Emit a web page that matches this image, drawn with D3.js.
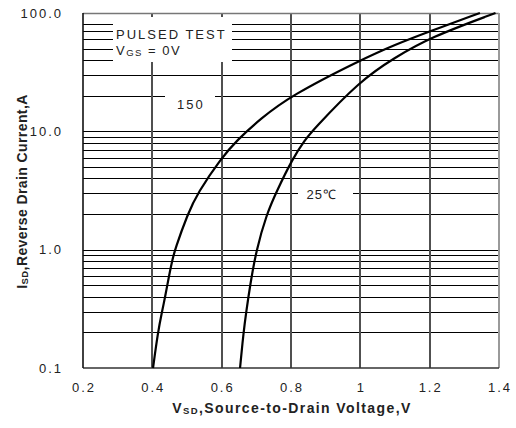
<!DOCTYPE html>
<html><head><meta charset="utf-8">
<script src="https://cdn.jsdelivr.net/npm/d3@7"></script>
<style>
body{margin:0;background:#fff}
svg{display:block;background:#fff}
text{font-family:"Liberation Sans",Arial,sans-serif;fill:#222}
</style>
</head><body>
<svg id="c" width="516" height="428"></svg>
<script>
// ---- data ----
const xTicks = [0.2, 0.4, 0.6, 0.8, 1.0, 1.2, 1.4];
const xTickLabels = ["0.2", "0.4", "0.6", "0.8", "1", "1.2", "1.4"];
const yTicks = [0.1, 1, 10, 100];
const yTickLabels = ["0.1", "1.0", "10.0", "100.0"];
const yGrid = [0.2, 0.3, 0.4, 0.5, 0.6, 0.7, 0.8, 0.9, 1, 2, 3, 4, 5, 6, 7, 8, 9, 10, 20, 30, 40, 50, 60, 70, 80, 100];
const v150 = [0.402, 0.416, 0.428, 0.437, 0.448, 0.457, 0.465, 0.502, 0.530, 0.600, 0.644, 0.711, 0.799, 1.000, 1.100, 1.200, 1.345];
const i150 = [0.1, 0.2, 0.3, 0.4, 0.6, 0.8, 1, 2, 3, 6, 8.4, 12.7, 20, 40, 54, 70, 100];
const v25 = [0.653, 0.663, 0.671, 0.682, 0.700, 0.730, 0.756, 0.806, 0.840, 0.860, 1.000, 1.100, 1.200, 1.39];
const i25 = [0.1, 0.2, 0.3, 0.5, 1, 2, 3, 6, 8.4, 10, 27, 42, 62, 100];

// ---- layout ----
const svg = d3.select("#c");
const L = 83, R = 499, T = 13, B = 368;
const x = d3.scaleLinear().domain([0.2, 1.4]).range([L, R]);
const y = d3.scaleLog().domain([0.1, 100]).range([B, T]);
const cr = v => Math.round(v) + 0.5;

const g = svg.append("g");
// horizontal grid
g.selectAll("line.h").data(yGrid.filter(d => d > 0.1 && d < 100)).join("line")
  .attr("x1", L).attr("x2", R)
  .attr("y1", d => cr(y(d))).attr("y2", d => cr(y(d)))
  .attr("stroke", "#000").attr("stroke-width", 1).attr("shape-rendering", "crispEdges");
// vertical grid
g.selectAll("line.v").data(xTicks.filter(d => d > 0.2 && d < 1.4)).join("line")
  .attr("x1", d => Math.round(x(d))).attr("x2", d => Math.round(x(d)))
  .attr("y1", T).attr("y2", B)
  .attr("stroke", "#505050").attr("stroke-width", 2).attr("shape-rendering", "crispEdges");
// borders
g.append("line").attr("x1", L).attr("x2", R).attr("y1", cr(y(100))).attr("y2", cr(y(100)))
  .attr("stroke", "#777").attr("stroke-width", 1.5);
g.append("line").attr("x1", R).attr("x2", R).attr("y1", T).attr("y2", B)
  .attr("stroke", "#9a9a9a").attr("stroke-width", 2);
g.append("line").attr("x1", L).attr("x2", R).attr("y1", B).attr("y2", B)
  .attr("stroke", "#333").attr("stroke-width", 1.6);
g.append("line").attr("x1", L).attr("x2", L).attr("y1", T).attr("y2", B)
  .attr("stroke", "#111").attr("stroke-width", 1.6);

// label boxes (white masks over grid)
g.append("rect").attr("x", 113).attr("y", 17).attr("width", 119).attr("height", 45).attr("fill", "#fff");
g.append("rect").attr("x", 165).attr("y", 89).attr("width", 50).attr("height", 10).attr("fill", "#fff");
g.append("rect").attr("x", 298).attr("y", 188).attr("width", 55).attr("height", 9).attr("fill", "#fff");

// curves
const line = d3.line().x(d => x(d[0])).y(d => y(d[1])).curve(d3.curveBasis);
const s150 = v150.map((v, k) => [v, i150[k]]);
const s25 = v25.map((v, k) => [v, i25[k]]);
[s150, s25].forEach(s => {
  svg.append("path").attr("d", line(s)).attr("fill", "none")
    .attr("stroke", "#000").attr("stroke-width", 2.2).attr("stroke-linejoin", "round");
});

// tick labels
const ls = "2px";
svg.selectAll("text.xt").data(xTicks).join("text")
  .attr("x", d => x(d) + 1).attr("y", 391.5).attr("text-anchor", "middle")
  .attr("font-size", 13).attr("letter-spacing", ls)
  .text((d, k) => xTickLabels[k]);
svg.selectAll("text.yt").data(yTicks).join("text")
  .attr("x", 63).attr("y", d => y(d) + 4.6).attr("text-anchor", "end")
  .attr("font-size", 13).attr("letter-spacing", ls)
  .text((d, k) => yTickLabels[k]);

// annotations
svg.append("text").attr("x", 116).attr("y", 38.5).attr("font-size", 13).attr("letter-spacing", ls).text("PULSED TEST");
const vg = svg.append("text").attr("x", 116).attr("y", 55).attr("font-size", 13).attr("letter-spacing", "1.5px");
vg.append("tspan").text("V");
vg.append("tspan").attr("font-size", 9.5).attr("dy", 0.5).text("GS");
vg.append("tspan").attr("dy", -0.5).text(" = 0V");
svg.append("text").attr("x", 177).attr("y", 109).attr("font-size", 13).attr("letter-spacing", ls).text("150");
svg.append("text").attr("x", 306.5).attr("y", 198.5).attr("font-size", 13).attr("letter-spacing", "1px").text("25℃");

// axis titles
const xt = svg.append("text").attr("x", 292).attr("y", 413).attr("text-anchor", "middle")
  .attr("font-size", 14).attr("font-weight", "bold").attr("letter-spacing", "1.4px");
xt.append("tspan").text("V");
xt.append("tspan").attr("font-size", 9.5).attr("dy", 0.5).text("SD");
xt.append("tspan").attr("dy", -0.5).text(",Source-to-Drain Voltage,V");

const yt = svg.append("text").attr("transform", "translate(27,191.5) rotate(-90)")
  .attr("text-anchor", "middle").attr("font-size", 14).attr("font-weight", "bold").attr("letter-spacing", "0.4px");
yt.append("tspan").text("I");
yt.append("tspan").attr("font-size", 9.5).attr("dy", 0.5).text("SD");
yt.append("tspan").attr("dy", -0.5).text(",Reverse Drain Current,A");
</script>
</body></html>
